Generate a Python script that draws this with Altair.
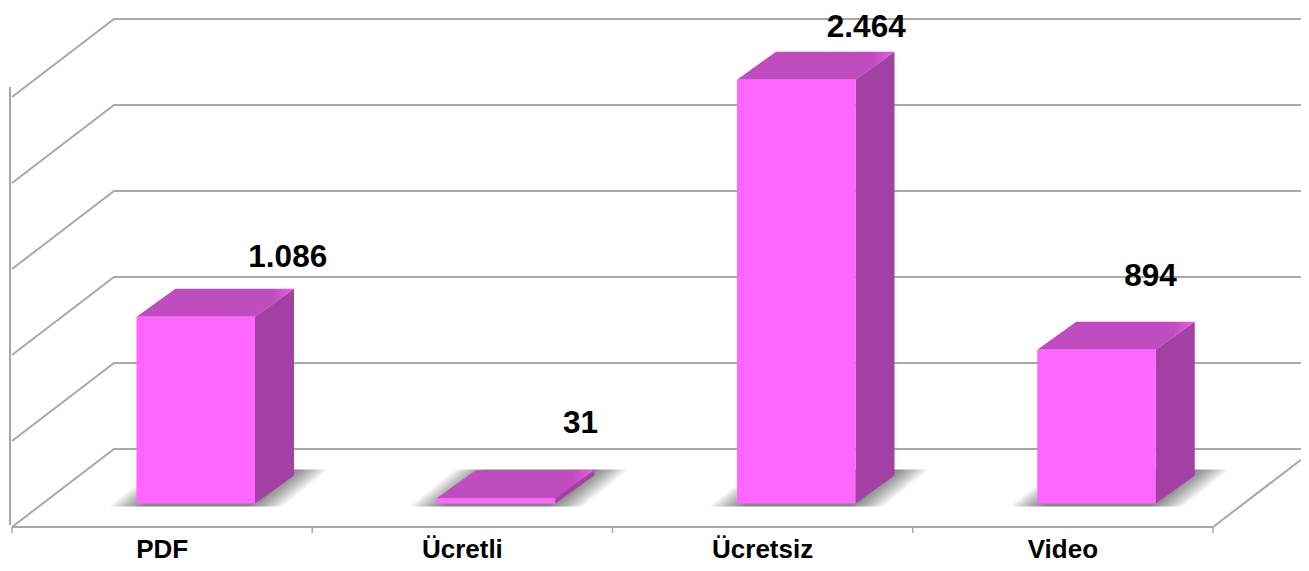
import altair as alt
import pandas as pd

categories = ["PDF", "Ücretli", "Ücretsiz", "Video"]
values = [1086, 31, 2464, 894]
value_labels = ["1.086", "31", "2.464", "894"]
grid_values = [0, 500, 1000, 1500, 2000, 2500]

# canvas and projection of the fake 3D box (pixels of the finished picture)
W, H, MARGIN = 1293, 555, 8
X0_PX, CAT_PX = 12.0, 300.25      # front floor start and width of one category
Y0_PX, UNIT_PX = 527.0, 0.172     # front floor line and pixels per value unit
WALL_DX, WALL_DY = 102.0, 78.0    # depth of the box
BAR_LEFT, BAR_W = 124.5, 118.5    # offset of a bar in its category, bar width
BAR_BASE = 23.5                   # bar foot above the front floor line
BAR_DX, BAR_DY = 39.0, 28.0       # depth of a bar
LABEL_SHIFT = [92, 84.5, 70, 54]
LABEL_RISE = [22, 37, 14.5, 36]
CAT_DROP = 31

GRID = "#A8A8A8"
FRONT, TOP, TOP_HI, SIDE = "#FF66FF", "#BF4DBF", "#E258E2", "#A340A3"

def dxu(px):
    return px / CAT_PX

def dyu(px):
    return px / UNIT_PX

x_dom = [dxu(MARGIN - X0_PX), dxu(MARGIN + W - X0_PX)]
y_dom = [dyu(Y0_PX - (MARGIN + H)), dyu(Y0_PX - MARGIN)]
xs = alt.Scale(domain=x_dom, nice=False, zero=False)
ys = alt.Scale(domain=y_dom, nice=False, zero=False)
X = alt.X("x:Q", scale=xs, axis=None)
Y = alt.Y("y:Q", scale=ys, axis=None)

# walls and floor
lines = []
for v in grid_values:
    k = f"g{v}"
    lines.append(dict(k=k, o=0, x=0, y=v))
    lines.append(dict(k=k, o=1, x=dxu(WALL_DX), y=v + dyu(WALL_DY)))
    lines.append(dict(k=k, o=2, x=x_dom[1], y=v + dyu(WALL_DY)))
lines += [dict(k="floor", o=0, x=0, y=0), dict(k="floor", o=1, x=4, y=0),
          dict(k="floor", o=2, x=x_dom[1], y=dyu(WALL_DY) * (x_dom[1] - 4) / dxu(WALL_DX))]
lines += [dict(k="axis", o=0, x=dxu(-2), y=dyu(2)), dict(k="axis", o=1, x=dxu(-2), y=2558)]
line_layer = alt.Chart(pd.DataFrame(lines)).mark_line(color=GRID, strokeWidth=2, clip=True).encode(
    x=X, y=Y, detail="k:N", order="o:Q")

ticks = pd.DataFrame([dict(x=i, y=0, y2=dyu(-6)) for i in range(5)])
tick_layer = alt.Chart(ticks).mark_rule(color=GRID, strokeWidth=1.5).encode(x=X, y=Y, y2="y2:Q")

# bars
front, top, side, shadow, labels = [], [], [], [], []
for i, (cat, val, lab) in enumerate(zip(categories, values, value_labels)):
    x0 = i + dxu(BAR_LEFT)
    x1 = x0 + dxu(BAR_W)
    d = dxu(BAR_DX)
    b = dyu(BAR_BASE)
    t = b + val
    h = dyu(BAR_DY)
    front.append(dict(x=x0, x2=x1, y=b, y2=t))
    side += [dict(k=cat, x=x1, y=b, y2=t), dict(k=cat, x=x1 + d, y=b + h, y2=t + h)]
    top += [dict(k=cat, x=x0, y=t, y2=t), dict(k=cat, x=x0 + d, y=t + h, y2=t),
            dict(k=cat, x=x1, y=t + h, y2=t), dict(k=cat, x=x1 + d, y=t + h, y2=t + h)]
    sb, st = dyu(BAR_BASE - 3), dyu(BAR_BASE + 34)
    sd = dxu(46)
    for lvl in range(12):
        g = dxu(3 * lvl - 12)
        key = f"{cat}{lvl}"
        sx0, sx1 = x0 - dxu(6) - g, x1 + dxu(6) + g
        shadow += [dict(k=key, x=sx0, y=sb, y2=sb), dict(k=key, x=sx0 + sd, y=st, y2=sb),
                   dict(k=key, x=sx1, y=st, y2=sb), dict(k=key, x=sx1 + sd, y=st, y2=st)]
    labels.append(dict(x=x0 + dxu(BAR_W / 2 + LABEL_SHIFT[i]), y=t + h + dyu(LABEL_RISE[i]), t=lab))

shadow_layer = alt.Chart(pd.DataFrame(shadow)).mark_area(color="#000000", opacity=0.05).encode(
    x=X, y=Y, y2="y2:Q", detail="k:N")
top_fill = alt.Gradient(gradient="linear", x1=0, x2=1, y1=0, y2=0, stops=[
    alt.GradientStop(color=TOP, offset=0), alt.GradientStop(color=TOP, offset=0.86),
    alt.GradientStop(color=TOP_HI, offset=0.97), alt.GradientStop(color=TOP_HI, offset=1)])
top_layer = alt.Chart(pd.DataFrame(top)).mark_area(color=top_fill).encode(
    x=X, y=Y, y2="y2:Q", detail="k:N")
side_layer = alt.Chart(pd.DataFrame(side)).mark_area(color=SIDE).encode(
    x=X, y=Y, y2="y2:Q", detail="k:N")
front_layer = alt.Chart(pd.DataFrame(front)).mark_rect(color=FRONT).encode(
    x=X, x2="x2:Q", y=Y, y2="y2:Q")

font = "Liberation Sans"
label_layer = alt.Chart(pd.DataFrame(labels)).mark_text(
    font=font, fontWeight="bold", fontSize=31.5, color="#000000", align="center", baseline="alphabetic"
).encode(x=X, y=Y, text="t:N")

cat_df = pd.DataFrame([dict(x=i + 0.5, y=dyu(-CAT_DROP), t=c) for i, c in enumerate(categories)])
cat_layer = alt.Chart(cat_df).mark_text(
    font=font, fontWeight="bold", fontSize=26, color="#000000", align="center", baseline="alphabetic"
).encode(x=X, y=Y, text="t:N")

chart = alt.layer(
    line_layer, tick_layer, shadow_layer, top_layer, side_layer, front_layer, label_layer, cat_layer
).properties(
    width=W, height=H, padding=0, autosize=alt.AutoSizeParams(type="none")
).configure_view(stroke=None)

chart.save("out.html", embed_options={"renderer": "svg", "actions": False})
